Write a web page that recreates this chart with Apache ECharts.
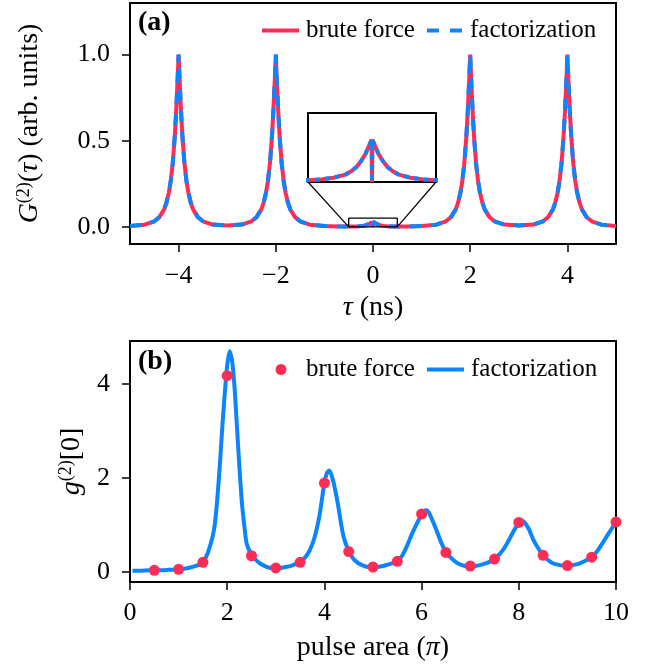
<!DOCTYPE html>
<html><head><meta charset="utf-8">
<script src="https://cdn.jsdelivr.net/npm/echarts@6/dist/echarts.min.js"></script>
<style>html,body{margin:0;padding:0;background:#fff}#c{width:657px;height:666px}</style>
</head><body><div id="c"></div>
<script>
// ---------- Panel (a): G2(tau) ----------
const tauA = [-5, -4.7, -4.5, -4.4, -4.3, -4.25, -4.2, -4.16, -4.12, -4.08, -4.05, -4.02, -4, -3.98, -3.95, -3.92, -3.88, -3.84, -3.8, -3.75, -3.7, -3.6, -3.5, -3.3, -3,
 -2.7, -2.5, -2.4, -2.3, -2.25, -2.2, -2.16, -2.12, -2.08, -2.05, -2.02, -2, -1.98, -1.95, -1.92, -1.88, -1.84, -1.8, -1.75, -1.7, -1.6, -1.5, -1.3, -1,
 -0.7, -0.5, -0.4, -0.3, -0.21, -0.16, -0.12, -0.086, -0.05, -0.02, -0.003, 0, 0.003, 0.02, 0.05, 0.086, 0.12, 0.16, 0.21, 0.3, 0.4, 0.5, 0.7,
 1, 1.3, 1.5, 1.6, 1.7, 1.75, 1.8, 1.84, 1.88, 1.92, 1.95, 1.98, 2, 2.02, 2.05, 2.08, 2.12, 2.16, 2.2, 2.25, 2.3, 2.4, 2.5, 2.7,
 3, 3.3, 3.5, 3.6, 3.7, 3.75, 3.8, 3.84, 3.88, 3.92, 3.95, 3.98, 4, 4.02, 4.05, 4.08, 4.12, 4.16, 4.2, 4.25, 4.3, 4.4, 4.5, 4.7, 5];
const bruteForceA = [0.004, 0.012, 0.032, 0.055, 0.1, 0.14, 0.2, 0.27, 0.37, 0.52, 0.67, 0.86, 1.0, 0.86, 0.67, 0.52, 0.37, 0.27, 0.2, 0.14, 0.1, 0.055, 0.032, 0.013, 0.008,
 0.013, 0.032, 0.055, 0.1, 0.14, 0.2, 0.27, 0.37, 0.52, 0.67, 0.86, 1.0, 0.86, 0.67, 0.52, 0.37, 0.27, 0.2, 0.14, 0.1, 0.055, 0.032, 0.012, 0.0045,
 0.0016, 0.0012, 0.0019, 0.0031, 0.0053, 0.008, 0.011, 0.015, 0.0205, 0.027, 0.0305, 0, 0.0305, 0.027, 0.0205, 0.015, 0.011, 0.008, 0.0053, 0.0031, 0.0019, 0.0012, 0.0016,
 0.0045, 0.012, 0.032, 0.055, 0.1, 0.14, 0.2, 0.27, 0.37, 0.52, 0.67, 0.86, 1.0, 0.86, 0.67, 0.52, 0.37, 0.27, 0.2, 0.14, 0.1, 0.055, 0.032, 0.013,
 0.008, 0.013, 0.032, 0.055, 0.1, 0.14, 0.2, 0.27, 0.37, 0.52, 0.67, 0.86, 1.0, 0.86, 0.67, 0.52, 0.37, 0.27, 0.2, 0.14, 0.1, 0.055, 0.032, 0.012, 0.004];
const factorizationA = bruteForceA.slice();
const tauTicks = [-4, -2, 0, 2, 4];
const gTicks = [0, 0.5, 1.0];
const insetX = [-0.5, 0.5];
const insetY = [0, 0.05];

// ---------- Panel (b): g2[0] vs pulse area ----------
const pulseAreaDots = [0.5, 1, 1.5, 2, 2.5, 3, 3.5, 4, 4.5, 5, 5.5, 6, 6.5, 7, 7.5, 8, 8.5, 9, 9.5, 10];
const bruteForceB = [0.03, 0.05, 0.2, 4.18, 0.34, 0.08, 0.2, 1.89, 0.43, 0.1, 0.22, 1.23, 0.41, 0.12, 0.27, 1.05, 0.35, 0.13, 0.31, 1.06];
const pulseAreaLine = [0.05, 0.2, 0.4, 0.6, 0.8, 1.0, 1.2, 1.4, 1.5, 1.6, 1.7, 1.75, 1.8, 1.85, 1.9, 1.95, 2.0, 2.05, 2.1, 2.15, 2.2, 2.25, 2.3, 2.35, 2.4, 2.5,
 2.6, 2.7, 2.8, 2.9, 3.0, 3.1, 3.2, 3.3, 3.4, 3.5, 3.6, 3.7, 3.8, 3.9, 3.95, 4.0, 4.05, 4.1, 4.15, 4.2, 4.25, 4.3, 4.35, 4.4, 4.5,
 4.6, 4.7, 4.8, 4.9, 5.0, 5.1, 5.2, 5.3, 5.4, 5.5, 5.6, 5.7, 5.8, 5.9, 6.0, 6.05, 6.1, 6.15, 6.2, 6.3, 6.4, 6.5,
 6.6, 6.7, 6.8, 6.9, 7.0, 7.1, 7.2, 7.3, 7.4, 7.5, 7.6, 7.7, 7.8, 7.9, 8.0, 8.05, 8.1, 8.2, 8.3, 8.4, 8.5,
 8.6, 8.7, 8.8, 8.9, 9.0, 9.1, 9.2, 9.3, 9.4, 9.5, 9.6, 9.7, 9.8, 9.9, 10.0];
const factorizationB = [0.02, 0.02, 0.03, 0.03, 0.04, 0.05, 0.08, 0.14, 0.2, 0.4, 0.75, 1.05, 1.6, 2.3, 3.1, 3.8, 4.4, 4.7, 4.5, 3.95, 3.1, 2.25, 1.5, 1.0, 0.6, 0.36,
 0.24, 0.16, 0.11, 0.08, 0.07, 0.08, 0.1, 0.12, 0.16, 0.21, 0.3, 0.46, 0.74, 1.2, 1.55, 1.9, 2.1, 2.16, 2.05, 1.85, 1.6, 1.3, 0.98, 0.72, 0.44,
 0.27, 0.18, 0.13, 0.1, 0.09, 0.1, 0.12, 0.15, 0.18, 0.23, 0.34, 0.55, 0.8, 1.02, 1.22, 1.29, 1.31, 1.26, 1.15, 0.9, 0.63, 0.42,
 0.3, 0.21, 0.15, 0.12, 0.11, 0.12, 0.14, 0.17, 0.21, 0.27, 0.37, 0.5, 0.68, 0.88, 1.04, 1.08, 1.07, 0.92, 0.68, 0.5, 0.35,
 0.25, 0.18, 0.15, 0.13, 0.13, 0.14, 0.16, 0.2, 0.25, 0.31, 0.42, 0.57, 0.74, 0.9, 1.06];
const g2Ticks = [0, 2, 4];

const RED = '#ff2d55', BLUE = '#0a84ff';
const FONT = 'Liberation Serif';
const pairs = (xs, ys) => xs.map((x, i) => [x, ys[i]]);
const minus = v => (v < 0 ? '\u2212' + Math.abs(v) : String(v));

const chart = echarts.init(document.getElementById('c'), null, { renderer: 'canvas' });

const tickStyle = { show: true, length: 8, lineStyle: { color: '#000', width: 1.5 } };
const lblStyle = { color: '#000', fontFamily: FONT, fontSize: 26 };
const axLine = { show: true, onZero: false, lineStyle: { color: '#000', width: 2 } };
const nameStyle = () => ({ color: '#000', fontFamily: FONT, fontSize: 28,
  rich: {
    it: { fontFamily: FONT, fontSize: 28, fontStyle: 'italic', color: '#000' },
    n: { fontFamily: FONT, fontSize: 28, color: '#000' },
    sup: { fontFamily: FONT, fontSize: 18, color: '#000', verticalAlign: 'top', padding: [0, 0, 12, 0] }
  } });

// legend icons (paths are scaled into itemWidth x itemHeight)
const ICON_SOLID = 'path://M0,0h0.01v0.01h-0.01z M0,5h37v4h-37z M0,13.99h0.01v0.01h-0.01z';
const ICON_DASH = 'path://M0,0h0.01v0.01h-0.01z M0,5h12v4h-12z M23,5h12v4h-12z M0,13.99h0.01v0.01h-0.01z';
const ICON_DOT = 'path://M13.5,2a5.5,5.5 0 1,0 11,0a5.5,5.5 0 1,0 -11,0z M0,-5h0.01v0.01h-0.01z M37,8.99h0.01v0.01h-0.01z';

const option = {
  animation: false,
  backgroundColor: '#fff',
  title: [
    { text: '(a)', left: 133, top: 4, textStyle: { fontFamily: FONT, fontSize: 28, fontWeight: 'bold', color: '#000' } },
    { text: '(b)', left: 133, top: 343, textStyle: { fontFamily: FONT, fontSize: 28, fontWeight: 'bold', color: '#000' } }
  ],
  legend: [
    { left: 257, top: 13, itemWidth: 37, itemHeight: 14, itemGap: 12, selectedMode: false,
      textStyle: { fontFamily: FONT, fontSize: 25, color: '#000', padding: [0, 0, 0, 2] },
      data: [{ name: 'brute force', icon: ICON_SOLID, itemStyle: { color: RED } },
             { name: 'factorization', icon: ICON_DASH, itemStyle: { color: BLUE } }] },
    { left: 257, top: 352, itemWidth: 37, itemHeight: 14, itemGap: 12, selectedMode: false,
      textStyle: { fontFamily: FONT, fontSize: 25, color: '#000', padding: [0, 0, 0, 2] },
      formatter: n => n.replace(/^b:/, ''),
      data: [{ name: 'b:brute force', icon: ICON_DOT, itemStyle: { color: RED } },
             { name: 'b:factorization', icon: ICON_SOLID, itemStyle: { color: BLUE } }] }
  ],
  grid: [
    { left: 130, top: 3, width: 486, height: 241, show: true, borderColor: '#000', borderWidth: 2, backgroundColor: 'transparent' },
    { left: 130, top: 341, width: 486, height: 241, show: true, borderColor: '#000', borderWidth: 2, backgroundColor: 'transparent' },
    { left: 308, top: 113, width: 128, height: 69, show: true, borderColor: '#000', borderWidth: 2, backgroundColor: '#fff', z: 5 }
  ],
  xAxis: [
    { gridIndex: 0, type: 'value', min: -5, max: 5, axisLine: axLine,
      axisTick: Object.assign({ customValues: tauTicks }, tickStyle),
      axisLabel: Object.assign({ customValues: tauTicks, margin: 19, formatter: minus }, lblStyle),
      splitLine: { show: false },
      name: '{it|\u03c4}{n| (ns)}', nameLocation: 'middle', nameGap: 50, nameTextStyle: nameStyle() },
    { gridIndex: 1, type: 'value', min: 0, max: 10, interval: 2, axisLine: axLine,
      axisTick: tickStyle,
      axisLabel: Object.assign({ margin: 18 }, lblStyle),
      splitLine: { show: false },
      name: '{n|pulse area (}{it|\u03c0}{n|)}', nameLocation: 'middle', nameGap: 52, nameTextStyle: nameStyle() },
    { gridIndex: 2, type: 'value', min: insetX[0], max: insetX[1], axisLine: { show: false }, axisTick: { show: false },
      axisLabel: { show: false }, splitLine: { show: false }, z: 5 }
  ],
  yAxis: [
    { gridIndex: 0, type: 'value', min: -0.1, max: 1.3, axisLine: axLine,
      axisTick: Object.assign({ customValues: gTicks }, tickStyle),
      axisLabel: Object.assign({ customValues: gTicks, margin: 20, formatter: v => v.toFixed(1) }, lblStyle),
      splitLine: { show: false },
      name: '{it|G}{sup|(2)}{n|(}{it|\u03c4}{n|) (arb. units)}', nameLocation: 'middle', nameGap: 85, nameTextStyle: nameStyle() },
    { gridIndex: 1, type: 'value', min: -0.22, max: 4.92, axisLine: axLine,
      axisTick: Object.assign({ customValues: g2Ticks }, tickStyle),
      axisLabel: Object.assign({ customValues: g2Ticks, margin: 20 }, lblStyle),
      splitLine: { show: false },
      name: '{it|g}{sup|(2)}{n|[0]}', nameLocation: 'middle', nameGap: 42, nameTextStyle: nameStyle() },
    { gridIndex: 2, type: 'value', min: insetY[0], max: insetY[1], axisLine: { show: false }, axisTick: { show: false },
      axisLabel: { show: false }, splitLine: { show: false }, z: 5 }
  ],
  series: [
    { name: 'brute force', type: 'line', xAxisIndex: 0, yAxisIndex: 0, data: pairs(tauA, bruteForceA),
      showSymbol: false, symbol: 'none', lineStyle: { color: RED, width: 4 }, itemStyle: { color: RED }, z: 2 },
    { name: 'factorization', type: 'line', xAxisIndex: 0, yAxisIndex: 0, data: pairs(tauA, factorizationA),
      showSymbol: false, symbol: 'none', lineStyle: { color: BLUE, width: 4, type: [11, 10] }, itemStyle: { color: BLUE }, z: 3 },
    { name: 'zoomRect', type: 'line', xAxisIndex: 0, yAxisIndex: 0, silent: true, symbol: 'none',
      data: [[insetX[0], insetY[0]], [insetX[1], insetY[0]], [insetX[1], insetY[1]], [insetX[0], insetY[1]], [insetX[0], insetY[0]]],
      lineStyle: { color: '#000', width: 1.3 }, z: 4 },
    { name: 'brute force', type: 'line', xAxisIndex: 2, yAxisIndex: 2, data: pairs(tauA, bruteForceA),
      showSymbol: false, symbol: 'none', lineStyle: { color: RED, width: 4 }, itemStyle: { color: RED }, z: 6 },
    { name: 'factorization', type: 'line', xAxisIndex: 2, yAxisIndex: 2, data: pairs(tauA, factorizationA),
      showSymbol: false, symbol: 'none', lineStyle: { color: BLUE, width: 4, type: [5, 5] }, itemStyle: { color: BLUE }, z: 7 },
    { name: 'b:factorization', type: 'line', xAxisIndex: 1, yAxisIndex: 1, data: pairs(pulseAreaLine, factorizationB),
      showSymbol: false, symbol: 'none', smooth: 0.2, lineStyle: { color: BLUE, width: 4 }, itemStyle: { color: BLUE }, z: 2 },
    { name: 'b:brute force', type: 'scatter', xAxisIndex: 1, yAxisIndex: 1, data: pairs(pulseAreaDots, bruteForceB),
      symbol: 'circle', symbolSize: 11, itemStyle: { color: RED, opacity: 1 }, z: 3 }
  ]
};
chart.setOption(option);

// connector lines between the zoomed region and the inset
const p1 = chart.convertToPixel({ xAxisIndex: 0, yAxisIndex: 0 }, [insetX[0], insetY[0]]);
const p2 = chart.convertToPixel({ xAxisIndex: 0, yAxisIndex: 0 }, [insetX[1], insetY[0]]);
const q1 = chart.convertToPixel({ xAxisIndex: 2, yAxisIndex: 2 }, [insetX[0], insetY[0]]);
const q2 = chart.convertToPixel({ xAxisIndex: 2, yAxisIndex: 2 }, [insetX[1], insetY[0]]);
chart.setOption({ graphic: [
  { type: 'line', z: 10, shape: { x1: q1[0], y1: q1[1], x2: p1[0], y2: p1[1] }, style: { stroke: '#000', lineWidth: 1.2 } },
  { type: 'line', z: 10, shape: { x1: q2[0], y1: q2[1], x2: p2[0], y2: p2[1] }, style: { stroke: '#000', lineWidth: 1.2 } }
] });
</script></body></html>
